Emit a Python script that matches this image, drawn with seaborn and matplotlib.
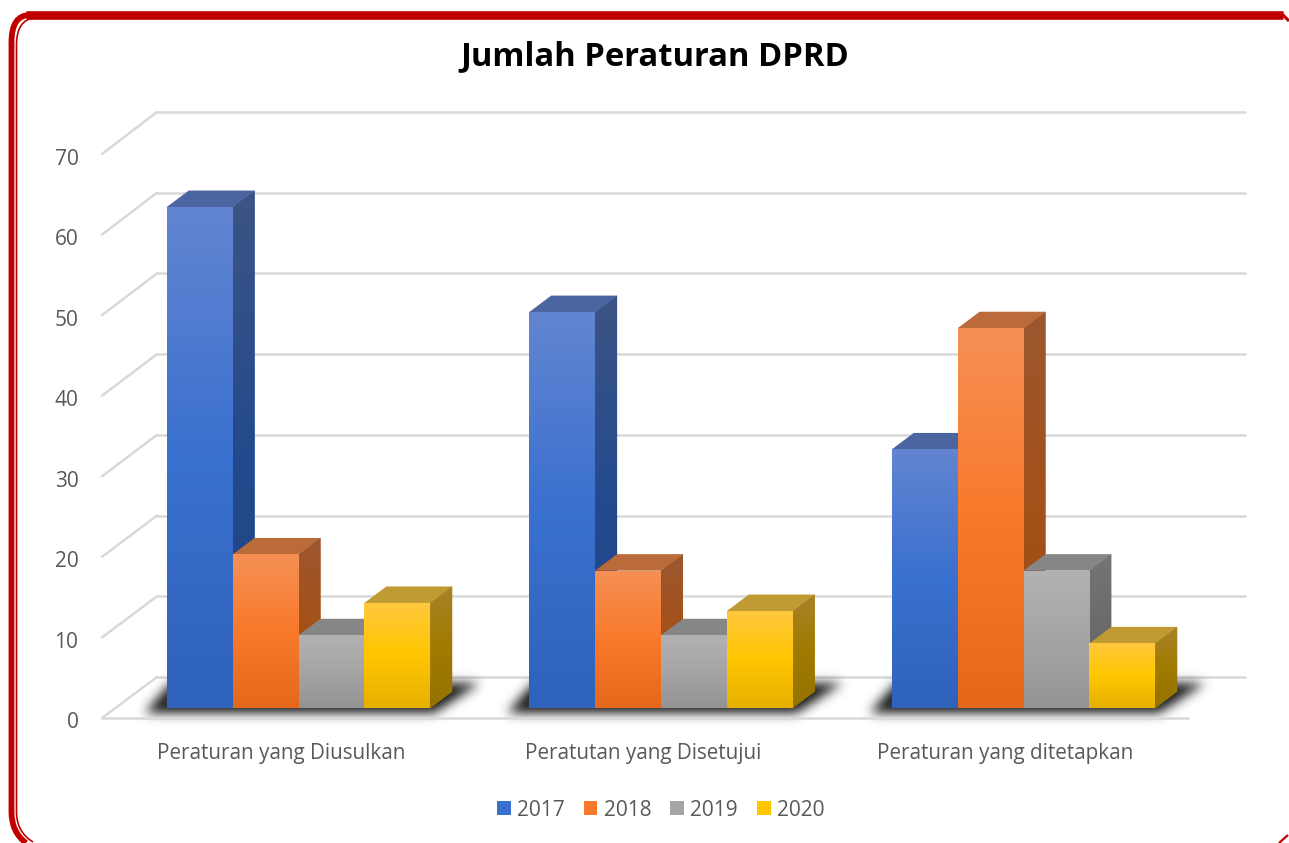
import numpy as np
import pandas as pd
import seaborn as sns
import matplotlib.pyplot as plt
from matplotlib.colors import LinearSegmentedColormap
from matplotlib.patches import ConnectionPatch, PathPatch, Polygon
from matplotlib.path import Path
from matplotlib.transforms import ScaledTranslation

# data
kategori = ['Peraturan yang Diusulkan', 'Peratutan yang Disetujui', 'Peraturan yang ditetapkan']
tahun = ['2017', '2018', '2019', '2020']
nilai_2017 = [62, 49, 32]
nilai_2018 = [19, 17, 47]
nilai_2019 = [9, 9, 17]
nilai_2020 = [13, 12, 8]
y_ticks = [0, 10, 20, 30, 40, 50, 60, 70]
judul = 'Jumlah Peraturan DPRD'

# colours: base, front gradient, side gradient, top face
warna = ['#3a70cf', '#f9792a', '#a5a5a5', '#ffc600']
warna_depan = [['#6285d1', '#3a70cf', '#2f62bb'], ['#f59055', '#f9792a', '#e5681a'],
               ['#b2b2b2', '#a5a5a5', '#939393'], ['#ffc83e', '#ffc600', '#e6b000']]
warna_sisi = [['#3d5485', '#234a8e', '#1f4480'], ['#9c5730', '#a5511a', '#96480f'],
              ['#757575', '#6a6a6a', '#5e5e5e'], ['#a8832a', '#a07a00', '#967200']]
warna_atas = ['#4a659f', '#bb6a3a', '#868686', '#c09a33']
abu = '#d9d9d9'
teks = '#595959'

W, H = 1289, 843


def rect_px(x0, x1, y_bottom, y_top):
    # axes rectangle from pixel positions of the picture
    return [x0 / W, 1 - y_bottom / H, (x1 - x0) / W, (y_bottom - y_top) / H]


def isi_gradien(ax, patch, warna3, x0, x1, y0, y1, z):
    cmap = LinearSegmentedColormap.from_list('g', warna3)
    g = np.linspace(0, 1, 128).reshape(-1, 1)
    im = ax.imshow(g, cmap=cmap, extent=(x0, x1, y0, y1), origin='upper', aspect='auto', zorder=z)
    im.set_clip_path(patch)


df = pd.DataFrame({
    'kategori': kategori * 4,
    'tahun': np.repeat(tahun, 3),
    'jumlah': nilai_2017 + nilai_2018 + nilai_2019 + nilai_2020,
})

sns.set_theme(style='white')
plt.rcParams['font.family'] = ['Open Sans', 'DejaVu Sans']

fig = plt.figure(figsize=(W / 100, H / 100), dpi=100, facecolor='white')

# back wall
ax_wall = fig.add_axes(rect_px(157, 1245, 677, 112), zorder=1)
ax_wall.set_ylim(0, 70)
ax_wall.set_xlim(0, 1)
ax_wall.set_yticks(y_ticks)
ax_wall.set_xticks([])
ax_wall.set_yticklabels([])
ax_wall.tick_params(length=0)
ax_wall.grid(axis='y', color=abu, lw=1.8)
for garis in ax_wall.get_ygridlines():
    garis.set_clip_on(False)
ax_wall.patch.set_alpha(0)
sns.despine(ax=ax_wall, left=True, bottom=True)

# layer in pixels for frame and floor shadow
ax_px = fig.add_axes([0, 0, 1, 1], zorder=2)
ax_px.set_xlim(0, W)
ax_px.set_ylim(H, 0)
ax_px.axis('off')

# front plane holds the tick labels
ax = fig.add_axes(rect_px(102, 1188, 718, 154), zorder=3)
ax.patch.set_alpha(0)
ax.set_ylim(0, 70)
ax.set_xlim(-0.4945, 2.5055)
ax.set_yticks(y_ticks)
ax.set_xticks(range(3))
ax.set_xticklabels(kategori)
ax.tick_params(axis='y', length=0, pad=17, labelsize=15, labelcolor=teks)
ax.tick_params(axis='x', length=0, pad=18, labelsize=14.9, labelcolor=teks)
geser = ScaledTranslation(0, -2.5 / 100, fig.dpi_scale_trans)
for t in ax.get_yticklabels():
    t.set_transform(t.get_transform() + geser)
sns.despine(ax=ax, left=True)
ax.spines['bottom'].set_color(abu)
ax.spines['bottom'].set_linewidth(1.8)

for v in y_ticks:
    ax_wall.add_artist(ConnectionPatch(xyA=(0, v), coordsA=ax.get_yaxis_transform(),
                                       xyB=(0, v), coordsB=ax_wall.transData,
                                       color=abu, lw=1.8, clip_on=False))

# bars
ax_bar = fig.add_axes(rect_px(117.25, 1204.75, 708, 142.4), zorder=4)
ax_bar.patch.set_alpha(0)
sns.barplot(data=df, x='kategori', y='jumlah', hue='tahun', palette=warna, width=0.727,
            saturation=1, gap=0, linewidth=0, legend=False, ax=ax_bar)
ax_bar.set_ylim(0, 70)
ax_bar.set_xlim(-0.5, 2.5)
ax_bar.axis('off')

dx = 22 / 362.5
dy = 16.5 / 8.08
for i, c in enumerate(ax_bar.containers):
    for b in c:
        x0, x1 = b.get_x(), b.get_x() + b.get_width()
        top = b.get_height()
        atas = Polygon([(x0, top), (x0 + dx, top + dy), (x1 + dx, top + dy), (x1, top)],
                       fc=warna_atas[i], ec='none', zorder=5 + i)
        sisi = Polygon([(x1, 0), (x1, top), (x1 + dx, top + dy), (x1 + dx, dy)],
                       fc=warna_sisi[i][1], ec='none', zorder=5 + i)
        ax_bar.add_patch(atas)
        ax_bar.add_patch(sisi)
        isi_gradien(ax_bar, sisi, warna_sisi[i], x1, x1 + dx, 0, top + dy, 5 + i)
        b.set_zorder(20)
        isi_gradien(ax_bar, b, warna_depan[i], x0, x1, 0, top, 21)
ax_bar.set_ylim(0, 70)
ax_bar.set_xlim(-0.5, 2.5)

# soft shadow on the floor, one per group of bars
fig.canvas.draw()
xx, yy = np.meshgrid(np.arange(W), np.arange(600, H))
alpha = np.zeros(xx.shape)
for j in range(len(kategori)):
    kiri = ax_bar.containers[0][j].get_x()
    b = ax_bar.containers[-1][j]
    kanan = b.get_x() + b.get_width()
    x0 = ax_bar.transData.transform((kiri, 0))[0]
    x1 = ax_bar.transData.transform((kanan, 0))[0]
    bentuk = Path([(x0 - 22, 712), (x1 + 4, 712), (x1 + 50, 682), (x0 + 4, 682)])
    mask = bentuk.contains_points(np.c_[xx.ravel(), yy.ravel()]).reshape(xx.shape)
    alpha = np.maximum(alpha, mask.astype(float))
kernel = np.exp(-np.arange(-18, 19) ** 2 / (2 * 5.5 ** 2))
kernel = kernel / kernel.sum()
alpha = np.apply_along_axis(np.convolve, 0, alpha, kernel, mode='same')
alpha = np.apply_along_axis(np.convolve, 1, alpha, kernel, mode='same')
bayangan = np.zeros(alpha.shape + (4,))
bayangan[..., 0:3] = 0.2
bayangan[..., 3] = np.minimum(alpha * 1.15, 1)
ax_px.imshow(bayangan, extent=(0, W, H, 600), aspect='auto', zorder=2)
ax_px.set_xlim(0, W)
ax_px.set_ylim(H, 0)

# red frame
merah = '#c00000'
M, L, C = Path.MOVETO, Path.LINETO, Path.CURVE3
luar = Path([(26, 843), (11.5, 832), (11.5, 812), (11.5, 42), (11.5, 15), (30, 15)], [M, C, C, L, C, C])
dalam = Path([(33, 842), (16.5, 832), (16.5, 812), (16.5, 45), (16.5, 20), (34, 18)], [M, C, C, L, C, C])
ax_px.add_patch(PathPatch(luar, fc='none', ec=merah, lw=4.2, capstyle='butt'))
ax_px.add_patch(PathPatch(dalam, fc='none', ec=merah, lw=1.2, capstyle='butt'))
ax_px.plot([26, 1283], [15, 15], color=merah, lw=6.2, solid_capstyle='butt')
ax_px.plot([1281, 1289], [13, 21], color=merah, lw=2.2, solid_capstyle='butt')
ax_px.plot([1279, 1288], [843, 835], color=merah, lw=1.6, solid_capstyle='butt')

fig.suptitle(judul, x=655 / W, y=1 - 57 / H, va='center', fontsize=23.6, fontweight='bold', color='black')

handles = [c[0] for c in ax_bar.containers]
fig.legend(handles, tahun, loc='center', bbox_to_anchor=(660.5 / W, 1 - 810 / H), ncols=4, frameon=False,
           fontsize=15, labelcolor=teks, handlelength=0.67, handleheight=0.67,
           handletextpad=0.29, columnspacing=0.91)

fig.savefig('out.png', dpi=100, facecolor='white')
